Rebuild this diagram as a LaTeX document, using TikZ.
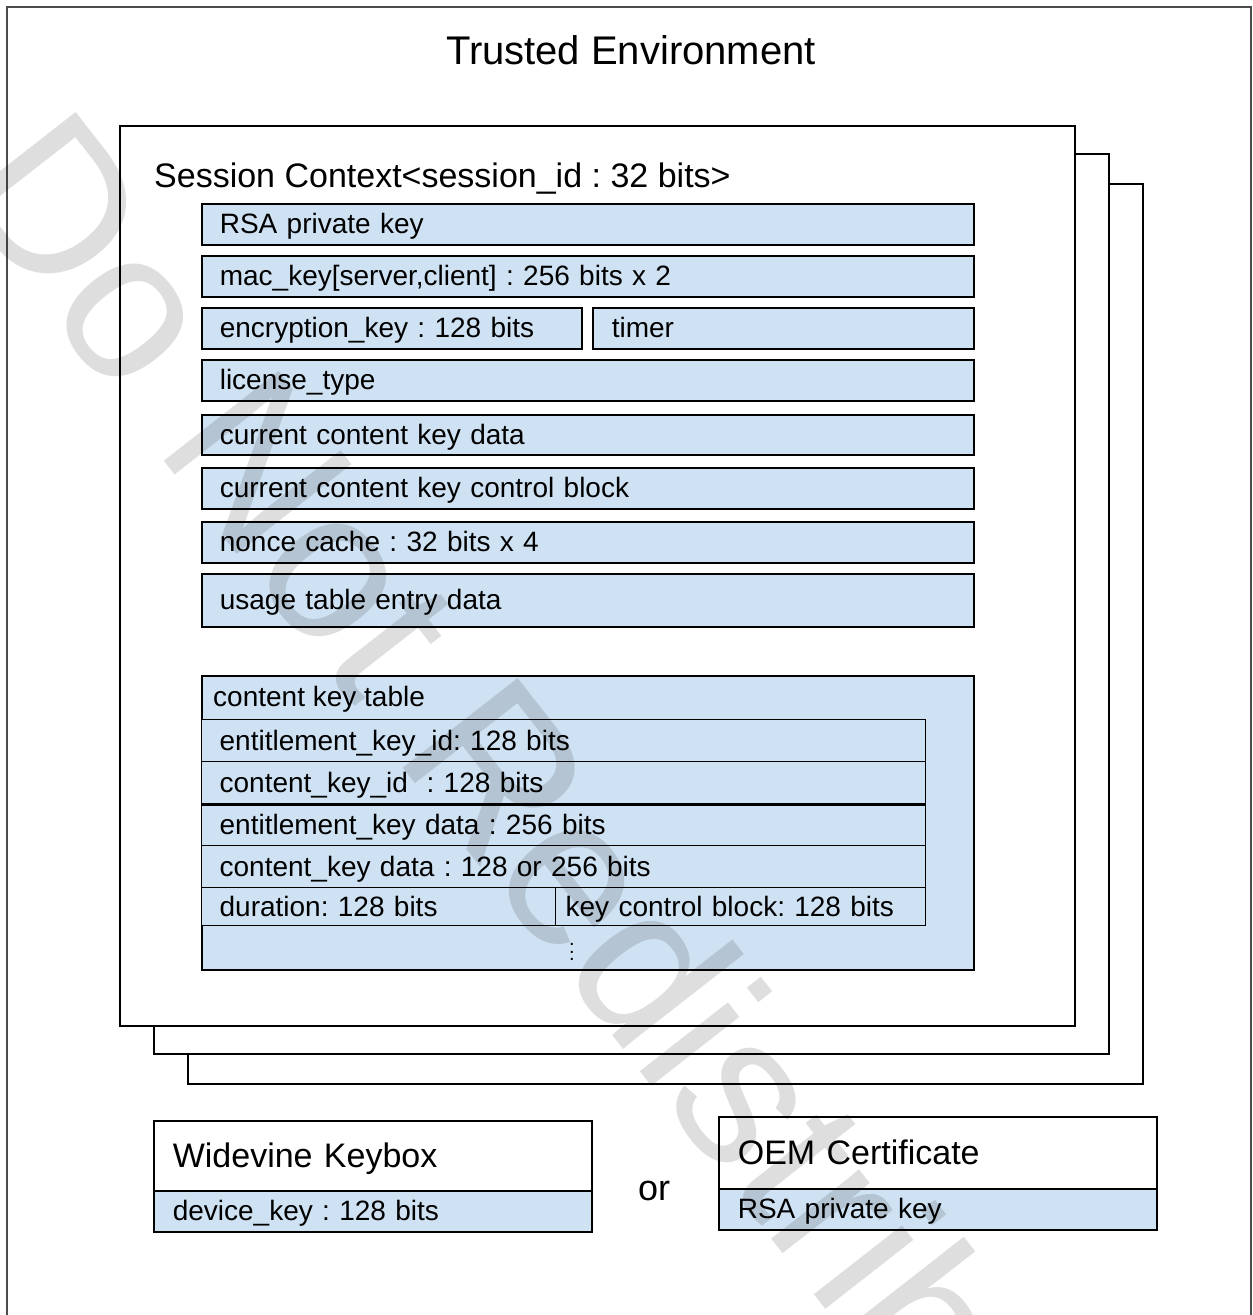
\documentclass[tikz,border=0pt]{standalone}
\usepackage{fontspec}
\setmainfont{Liberation Sans}
\usetikzlibrary{positioning}

\definecolor{fieldblue}{HTML}{CFE2F3}
\newcommand{\rowfont}{\fontsize{28}{32}\selectfont}
\newcommand{\headfont}{\fontsize{34}{40}\selectfont}
\newcommand{\markfont}{\fontsize{212}{250}\selectfont}
\frenchspacing

\begin{document}
\begin{tikzpicture}[x=1pt,y=-1pt,
    field/.style={rectangle,draw=black,line width=1.6,fill=fieldblue,anchor=north west,
      inner xsep=18,inner ysep=0,align=left,text width=#1,font=\rowfont,
      text height=24,text depth=5},
    card/.style={rectangle,draw=black,line width=1.6,fill=white,anchor=north west,
      inner xsep=19,inner ysep=0,align=left,text width=#1,font=\headfont,
      text height=28,text depth=4},
    sheet/.style={rectangle,draw=black,line width=1.6,fill=white,anchor=north west,
      minimum width=955,minimum height=900,inner sep=0}]
  \useasboundingbox (0,0) rectangle (1253,1315);

  % trusted environment
  \draw[black!70,line width=1.6] (7,1330) -- (7,7) -- (1251,7) -- (1251,1330);
  \node[font=\fontsize{40}{46}\selectfont] (trusted) at (631,50) {Trusted Environment};

  % stacked session contexts
  \node[sheet] (ctxthree) at (187,183) {};
  \node[sheet] (ctxtwo) at (153,153) {};
  \node[sheet] (ctxone) at (119,125) {};
  \node[font=\headfont,anchor=base west,inner sep=0] (ctxname) at (154,187) {Session Context<session\_id : 32 bits>};

  % session fields
  \node[field=736,minimum height=41] (rsakey) at (201,203) {RSA private key};
  \node[field=736,minimum height=41] (mackey) at (201,255) {mac\_key[server,client] : 256 bits x 2};
  \node[field=344,minimum height=41] (enckey) at (201,307) {encryption\_key : 128 bits};
  \node[field=343,minimum height=41,inner xsep=19] (timer) at (592,307) {timer};
  \node[field=736,minimum height=41] (lictype) at (201,359) {license\_type};
  \node[field=736,minimum height=40] (curkey) at (201,414) {current content key data};
  \node[field=736,minimum height=41] (curkcb) at (201,467) {current content key control block};
  \node[field=736,minimum height=41] (nonce) at (201,521) {nonce cache : 32 bits x 4};
  \node[field=736,minimum height=53] (usage) at (201,573) {usage table entry data};

  % content key table
  \node[field=736,minimum height=294] (keytable) at (201,675) {};
  \node[font=\rowfont,anchor=base west,inner sep=0] (tablename) at (213,706) {content key table};
  \node[field=688,minimum height=42,line width=1.3] (entid) at (201,719) {entitlement\_key\_id: 128 bits};
  \node[field=688,minimum height=42,line width=1.3] (contid) at (201,761) {content\_key\_id\ \ : 128 bits};
  \node[field=688,minimum height=42,line width=1.3] (entdata) at (201,803) {entitlement\_key data : 256 bits};
  \node[field=688,minimum height=42,line width=1.3] (contdata) at (201,845) {content\_key data : 128 or 256 bits};
  \node[field=318,minimum height=38,line width=1.3] (duration) at (201,887) {duration: 128 bits};
  \node[field=350,minimum height=38,line width=1.3,inner xsep=10] (kcb) at (555,887) {key control block: 128 bits};
  \draw[line width=3] (contid.south west) -- (contid.south east);
  \node[font=\fontsize{20}{7.5}\selectfont,align=center,inner sep=0] (more) at (572,952) {.\\.\\.};

  % root of trust
  \node[card=400,minimum height=70] (keybox) at (153,1120) {Widevine Keybox};
  \node[field=400,minimum height=41,inner xsep=19] (devkey) at (153,1190) {device\_key : 128 bits};
  \node[font=\fontsize{36}{40}\selectfont] (either) at (654,1191) {or};
  \node[card=400,minimum height=72] (oemcert) at (718,1116) {OEM Certificate};
  \node[field=400,minimum height=41,inner xsep=19] (oemkey) at (718,1188) {RSA private key};

  % watermark
  \node[rotate=-52,anchor=base west,inner sep=0,font=\markfont,text=black,opacity=0.13] (mark) at (-50,188) {Do Not Redistribute};
\end{tikzpicture}
\end{document}
